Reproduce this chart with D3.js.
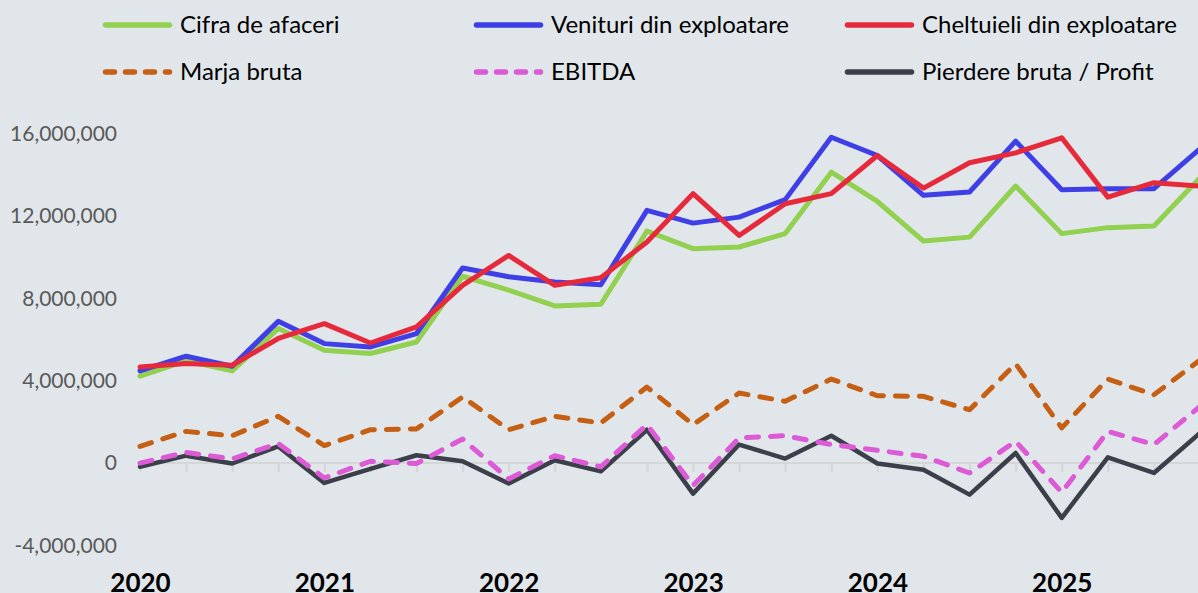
<!DOCTYPE html>
<html>
<head>
<meta charset="utf-8">
<script src="https://cdn.jsdelivr.net/npm/d3@7"></script>
<style>
  html, body { margin: 0; padding: 0; background: #e1e6ea; }
  svg { display: block; font-family: Lato, "Open Sans", sans-serif; }
</style>
</head>
<body>
<div id="chart"></div>
<script>
// quarterly categories, 2020 - 2025
var quarters = ["2020 T1", "2020 T2", "2020 T3", "2020 T4",
                "2021 T1", "2021 T2", "2021 T3", "2021 T4",
                "2022 T1", "2022 T2", "2022 T3", "2022 T4",
                "2023 T1", "2023 T2", "2023 T3", "2023 T4",
                "2024 T1", "2024 T2", "2024 T3", "2024 T4",
                "2025 T1", "2025 T2", "2025 T3", "2025 T4"];
var years = ["2020", "2021", "2022", "2023", "2024", "2025"];
var yTicks = [-4000000, 0, 4000000, 8000000, 12000000, 16000000];

var cifraAfaceri = [4220000, 4960000, 4480000, 6530000, 5480000, 5320000, 5880000, 9070000,
                    8400000, 7630000, 7710000, 11260000, 10410000, 10490000, 11140000, 14120000,
                    12700000, 10780000, 10970000, 13450000, 11140000, 11430000, 11510000, 13850000];
var venituri = [4480000, 5190000, 4700000, 6880000, 5800000, 5640000, 6290000, 9470000,
                9050000, 8790000, 8660000, 12270000, 11650000, 11940000, 12790000, 15820000,
                14930000, 13000000, 13160000, 15630000, 13270000, 13320000, 13320000, 15260000];
var cheltuieli = [4670000, 4830000, 4750000, 6050000, 6770000, 5830000, 6610000, 8630000,
                  10080000, 8630000, 9000000, 10730000, 13080000, 11050000, 12590000, 13080000,
                  14930000, 13350000, 14580000, 15060000, 15790000, 12910000, 13610000, 13450000];
var marjaBruta = [810000, 1540000, 1330000, 2270000, 850000, 1620000, 1660000, 3210000,
                  1620000, 2270000, 1950000, 3690000, 1870000, 3400000, 3000000, 4080000,
                  3270000, 3240000, 2590000, 4820000, 1710000, 4080000, 3320000, 5000000];
var ebitda = [0, 520000, 200000, 950000, -720000, 90000, -20000, 1170000,
              -770000, 360000, -180000, 1870000, -1090000, 1220000, 1330000, 900000,
              620000, 330000, -480000, 1060000, -1420000, 1540000, 900000, 2750000];
var profit = [-180000, 360000, -20000, 810000, -960000, -280000, 380000, 90000,
              -990000, 140000, -400000, 1620000, -1480000, 900000, 220000, 1330000,
              -20000, -320000, -1530000, 490000, -2660000, 280000, -480000, 1460000];

var series = [
  {name: "Cifra de afaceri", values: cifraAfaceri, color: "#92d050", dash: null},
  {name: "Venituri din exploatare", values: venituri, color: "#3e3fe6", dash: null},
  {name: "Cheltuieli din exploatare", values: cheltuieli, color: "#e62a3c", dash: null},
  {name: "Marja bruta", values: marjaBruta, color: "#c55f14", dash: "12,12"},
  {name: "EBITDA", values: ebitda, color: "#dc5ad6", dash: "12,12"},
  {name: "Pierdere bruta / Profit", values: profit, color: "#3b3f4a", dash: null}
];
// drawing order (dark line under the pink dashes)
var drawOrder = [0, 1, 2, 3, 5, 4];

var width = 1198, height = 593;

var svg = d3.select("#chart")
  .append("svg")
  .attr("width", width)
  .attr("height", height);

var x = d3.scaleLinear()
  .domain([0, quarters.length - 1])
  .range([140, 1200]);

var y = d3.scaleLinear()
  .domain([-4000000, 16000000])
  .range([545.5, 133.5]);

// y axis labels, no line
var fmt = d3.format(",");
var yAxis = svg.append("g")
  .attr("transform", "translate(140,0)")
  .call(d3.axisLeft(y).tickValues(yTicks).tickSize(0).tickPadding(23)
        .tickFormat(function(d) { return fmt(d).replace("\u2212", "-"); }));
yAxis.select(".domain").remove();
yAxis.selectAll("text")
  .attr("font-family", "Lato, sans-serif")
  .attr("font-size", 21)
  .attr("fill", "#595959");

// zero line with quarter ticks
var xAxis = svg.append("g")
  .attr("transform", "translate(0," + y(0) + ")")
  .call(d3.axisBottom(x).tickValues(d3.range(quarters.length)).tickSize(9).tickFormat(""));
xAxis.select(".domain")
  .attr("d", "M140,0H1200")
  .attr("stroke", "#d4d6d8")
  .attr("stroke-width", 2);
xAxis.selectAll(".tick line")
  .attr("stroke", "#d4d6d8")
  .attr("stroke-width", 2);

// year labels
var yearAxis = svg.append("g")
  .call(d3.axisBottom(x).tickValues(d3.range(0, quarters.length, 4)).tickSize(0)
        .tickFormat(function(d) { return years[d / 4]; }));
yearAxis.select(".domain").remove();
yearAxis.selectAll("text")
  .attr("y", 592)
  .attr("dy", 0)
  .attr("font-family", "Lato, sans-serif")
  .attr("font-size", 26)
  .attr("font-weight", "bold")
  .attr("fill", "#000");

// lines
var line = d3.line()
  .x(function(d, i) { return x(i); })
  .y(function(d) { return y(d); });

drawOrder.forEach(function(k) {
  var s = series[k];
  svg.append("path")
    .attr("d", line(s.values))
    .attr("fill", "none")
    .attr("stroke", s.color)
    .attr("stroke-width", k == 5 ? 4.5 : 5)
    .attr("stroke-linejoin", "round")
    .attr("stroke-linecap", "round")
    .attr("stroke-dasharray", s.dash);
});

// legend, 3 columns x 2 rows
var legX = [103, 474, 845], legY = [25, 72];
var legend = svg.append("g");
series.forEach(function(s, i) {
  var g = legend.append("g")
    .attr("transform", "translate(" + legX[i % 3] + "," + legY[Math.floor(i / 3)] + ")");
  g.append("line")
    .attr("x1", 2.5).attr("x2", 66.5)
    .attr("stroke", s.color)
    .attr("stroke-width", 5.5)
    .attr("stroke-linecap", "round")
    .attr("stroke-dasharray", s.dash ? "9,11" : null);
  g.append("text")
    .attr("x", 77)
    .attr("dy", "0.35em")
    .attr("font-size", 24)
    .attr("fill", "#000")
    .text(s.name);
});
</script>
</body>
</html>
